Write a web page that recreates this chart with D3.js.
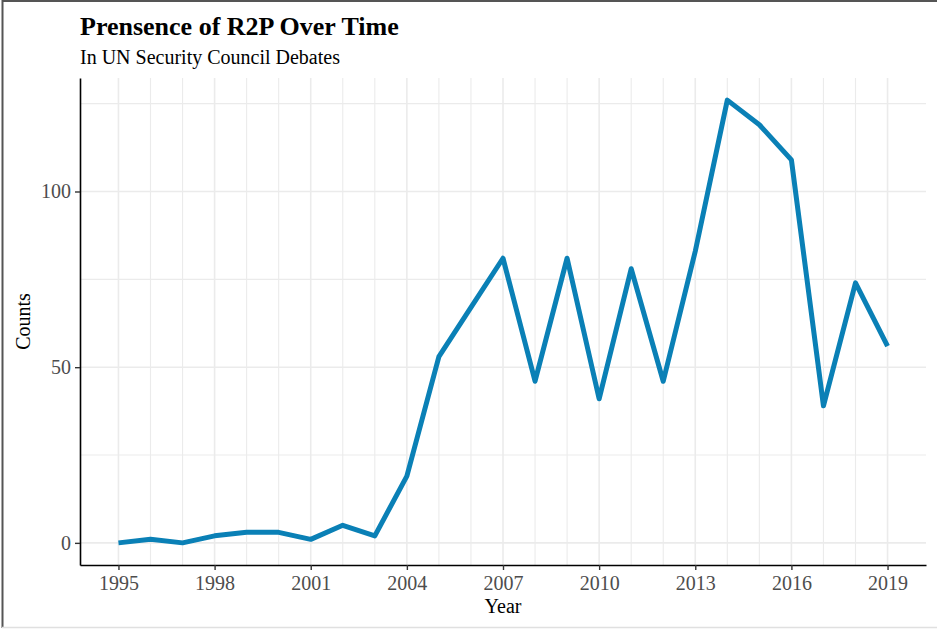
<!DOCTYPE html>
<html><head><meta charset="utf-8">
<script src="https://cdn.jsdelivr.net/npm/d3@7"></script>
<style>body{margin:0;background:#fff}svg{display:block}</style>
</head><body>
<script>
const years = [1995,1996,1997,1998,1999,2000,2001,2002,2003,2004,2005,2006,2007,2008,2009,2010,2011,2012,2013,2014,2015,2016,2017,2018,2019];
const counts = [0,1,0,2,3,3,1,5,2,19,53,67,81,46,81,41,78,46,83,126,119,109,39,74,56];
const xTicks = [1995,1998,2001,2004,2007,2010,2013,2016,2019];
const yTicks = [0,50,100];
const yMinor = [25,75,125];
const titleText = "Prensence of R2P Over Time";
const subtitleText = "In UN Security Council Debates";
const xLabel = "Year", yLabel = "Counts";

(function(){
const W = 937, H = 629;
const mL = 80, mR = 926, mT = 78, mB = 565;
const svg = d3.select("body").append("svg").attr("width", W).attr("height", H);
const font = "'Liberation Serif','Times New Roman',serif";

const xr = d3.extent(years), xp = (xr[1]-xr[0])*0.05;
const yr = [d3.min(counts), d3.max(counts)], yp = (yr[1]-yr[0])*0.05;
const x = d3.scaleLinear().domain([xr[0]-xp, xr[1]+xp]).range([mL, mR]);
const y = d3.scaleLinear().domain([yr[0]-yp, yr[1]+yp]).range([mB, mT]);

// frame
svg.append("line").attr("x1",2).attr("x2",W).attr("y1",1).attr("y2",1).attr("stroke","#555").attr("stroke-width",2);
svg.append("line").attr("x1",2.5).attr("x2",2.5).attr("y1",0).attr("y2",628).attr("stroke","#555").attr("stroke-width",2);
svg.append("line").attr("x1",2).attr("x2",W).attr("y1",627.5).attr("y2",627.5).attr("stroke","#e0e0e0").attr("stroke-width",1.5);

// grid
const g = svg.append("g");
g.selectAll(".vg").data(years).join("line")
  .attr("x1",d=>x(d)).attr("x2",d=>x(d)).attr("y1",mT).attr("y2",mB)
  .attr("stroke","#ebebeb").attr("stroke-width",d=>xTicks.includes(d)?1.6:1.1);
g.selectAll(".hg").data(yTicks.concat(yMinor)).join("line")
  .attr("x1",mL).attr("x2",mR).attr("y1",d=>y(d)).attr("y2",d=>y(d))
  .attr("stroke","#ebebeb").attr("stroke-width",d=>yTicks.includes(d)?1.6:1.1);

// line
svg.append("path").datum(years.map((d,i)=>[d,counts[i]]))
  .attr("d", d3.line().x(d=>x(d[0])).y(d=>y(d[1])))
  .attr("fill","none").attr("stroke","#0a80b6").attr("stroke-width",5).attr("stroke-linejoin","round");

// axes
const xa = svg.append("g").attr("transform",`translate(0,${mB})`)
  .call(d3.axisBottom(x).tickValues(xTicks).tickFormat(d3.format("d")).tickSize(5).tickPadding(6).tickSizeOuter(0));
const ya = svg.append("g").attr("transform",`translate(${mL},0)`)
  .call(d3.axisLeft(y).tickValues(yTicks).tickSize(5).tickPadding(4).tickSizeOuter(0));
[xa, ya].forEach(a=>{
  a.select(".domain").attr("stroke","#000").attr("stroke-width",1.6);
  a.selectAll(".tick line").attr("stroke","#333").attr("stroke-width",1.4);
  a.selectAll(".tick text").attr("fill","#4d4d4d").style("font-family",font).style("font-size","20px");
});

svg.append("text").attr("x",80).attr("y",35).text(titleText)
  .style("font-family",font).style("font-size","26px").style("font-weight","bold").attr("fill","#000");
svg.append("text").attr("x",80).attr("y",64).text(subtitleText)
  .style("font-family",font).style("font-size","20px").attr("fill","#000");
svg.append("text").attr("x",(mL+mR)/2).attr("y",613).attr("text-anchor","middle").text(xLabel)
  .style("font-family",font).style("font-size","20px").attr("fill","#000");
svg.append("text").attr("transform",`translate(30,${(mT+mB)/2}) rotate(-90)`).attr("text-anchor","middle").text(yLabel)
  .style("font-family",font).style("font-size","20px").attr("fill","#000");
})();
</script>
</body></html>
